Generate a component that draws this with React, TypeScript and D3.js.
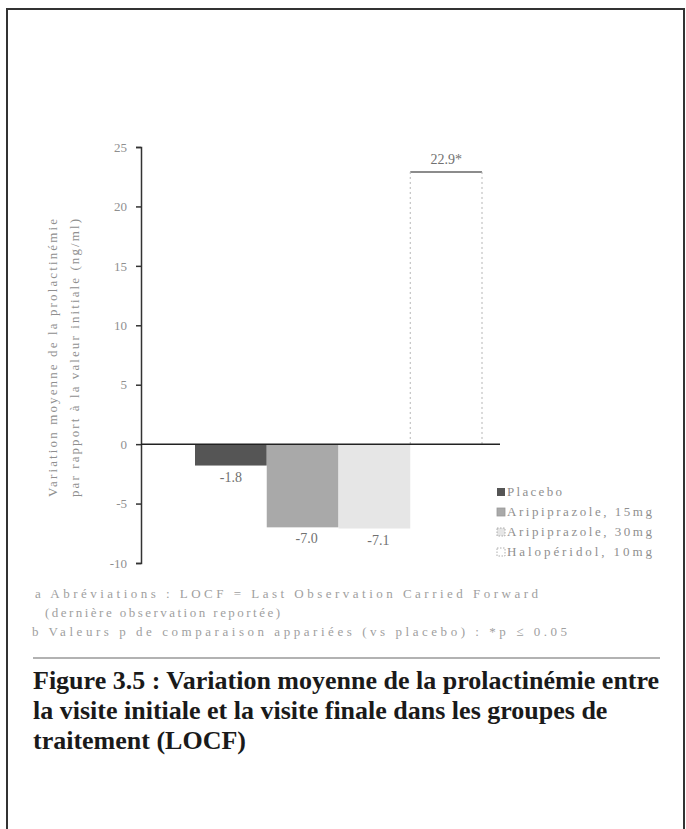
import React, { useEffect, useRef } from "react";
import * as d3 from "d3";

// data
const categories = ["Placebo", "Aripiprazole, 15mg", "Aripiprazole, 30mg", "Halopéridol, 10mg"];
const values = [-1.8, -7.0, -7.1, 22.9];
const valueLabels = ["-1.8", "-7.0", "-7.1", "22.9*"];
const yTicks = [25, 20, 15, 10, 5, 0, -5, -10];
const yLabelLines = ["Variation moyenne de la prolactinémie", "par rapport à la valeur initiale (ng/ml)"];
const footnotes = [
  "a Abréviations : LOCF = Last Observation Carried Forward",
  "(dernière observation reportée)",
  "b Valeurs p de comparaison appariées (vs placebo) : *p ≤ 0.05",
];
const captionLines = [
  "Figure 3.5 : Variation moyenne de la prolactinémie entre",
  "la visite initiale et la visite finale dans les groupes de",
  "traitement (LOCF)",
];

const barFills = ["#555555", "#a9a9a9", "#e6e6e6", "#ffffff"];

export default function App() {
  const ref = useRef<SVGSVGElement>(null);

  useEffect(() => {
    const width = 686;
    const height = 829;
    const svg = d3.select(ref.current).attr("width", width).attr("height", height);
    svg.selectAll("*").remove();

    const fadedText = "#8f8f8f";
    const serif = "Liberation Serif, Times New Roman, serif";

    // page frame (scanned page border)
    svg.append("path")
      .attr("d", `M7,${height} L7,9 L684,9 L684,${height}`)
      .attr("fill", "none")
      .attr("stroke", "#333")
      .attr("stroke-width", 2);

    // scales
    const yScale = d3.scaleLinear().domain([-10, 25]).range([563, 147]);
    const xScale = d3.scaleBand().domain(categories).range([195, 482]).padding(0);
    const axisX = 141;

    // y axis
    const yAxis = d3.axisLeft(yScale).tickValues(yTicks).tickSize(5).tickFormat(d => String(d));
    const gy = svg.append("g")
      .attr("transform", `translate(${axisX},0)`)
      .call(yAxis)
      .attr("font-family", serif)
      .attr("font-size", 13);
    gy.select(".domain").attr("stroke", "#333").attr("stroke-width", 1.5);
    gy.selectAll(".tick line").attr("stroke", "#333").attr("stroke-width", 1.5);
    gy.selectAll(".tick text")
      .attr("x", -14)
      .attr("fill", fadedText);

    // y label, two rotated lines
    yLabelLines.forEach((line, i) => {
      svg.append("text")
        .attr("transform", `translate(${57 + i * 22},358) rotate(-90)`)
        .attr("text-anchor", "middle")
        .attr("fill", fadedText)
        .attr("textLength", 278)
        .attr("font-family", serif)
        .attr("font-size", 13)
        .text(line);
    });

    // bars
    const data = categories.map((c, i) => ({ c, v: values[i], label: valueLabels[i], fill: barFills[i] }));
    svg.selectAll("rect.bar")
      .data(data)
      .enter()
      .append("rect")
      .attr("class", "bar")
      .attr("x", d => xScale(d.c) as number)
      .attr("y", d => yScale(Math.max(0, d.v)))
      .attr("width", xScale.bandwidth())
      .attr("height", d => Math.abs(yScale(d.v) - yScale(0)))
      .attr("fill", d => d.fill);

    // outline of the white bar: solid top, dotted sides
    const last = data[3];
    const lx0 = xScale(last.c) as number;
    const lx1 = lx0 + xScale.bandwidth();
    svg.append("line")
      .attr("x1", lx0).attr("x2", lx1)
      .attr("y1", yScale(last.v)).attr("y2", yScale(last.v))
      .attr("stroke", "#666").attr("stroke-width", 1.5);
    [lx0, lx1].forEach(x => {
      svg.append("line")
        .attr("x1", x).attr("x2", x)
        .attr("y1", yScale(last.v)).attr("y2", yScale(0))
        .attr("stroke", "#b5b5b5").attr("stroke-width", 1)
        .attr("stroke-dasharray", "2,3");
    });

    // zero line
    svg.append("line")
      .attr("x1", axisX).attr("x2", 500)
      .attr("y1", yScale(0)).attr("y2", yScale(0))
      .attr("stroke", "#222").attr("stroke-width", 1.5);

    // value labels
    svg.selectAll("text.val")
      .data(data)
      .enter()
      .append("text")
      .attr("class", "val")
      .attr("x", d => (xScale(d.c) as number) + xScale.bandwidth() / 2 + (d.v < -5 ? 4 : 0))
      .attr("y", d => d.v < 0 ? yScale(d.v) + 16 : yScale(d.v) - 8)
      .attr("text-anchor", "middle")
      .attr("fill", "#707070")
      .attr("font-family", serif)
      .attr("font-size", 14)
      .text(d => d.label);

    // legend
    const legend = svg.append("g").attr("transform", "translate(497,488)");
    data.forEach((d, i) => {
      const g = legend.append("g").attr("transform", `translate(0,${i * 20})`);
      g.append("rect")
        .attr("width", 8).attr("height", 8)
        .attr("fill", i === 3 ? "#fff" : d.fill)
        .attr("stroke", i === 0 ? "none" : "#999")
        .attr("stroke-width", 0.8)
        .attr("stroke-dasharray", i >= 2 ? "1.5,1.5" : null);
      g.append("text")
        .attr("x", 10).attr("y", 8)
        .attr("fill", fadedText)
        .attr("textLength", i === 0 ? 55 : 145)
        .attr("font-family", serif)
        .attr("font-size", 13)
        .text(d.c);
    });

    // footnotes
    const fnX = [35, 45, 32];
    const fnLen = [503, 235, 535];
    footnotes.forEach((t, i) => {
      svg.append("text")
        .attr("x", fnX[i])
        .attr("y", [598, 617, 636][i])
        .attr("fill", "#a0a0a0")
        .attr("textLength", fnLen[i])
        .attr("font-family", serif)
        .attr("font-size", 13)
        .text(t);
    });

    // rule above caption
    svg.append("line")
      .attr("x1", 33).attr("x2", 660)
      .attr("y1", 658).attr("y2", 658)
      .attr("stroke", "#666").attr("stroke-width", 1.2);

    // caption
    captionLines.forEach((t, i) => {
      svg.append("text")
        .attr("x", 33)
        .attr("y", 689 + i * 30)
        .attr("fill", "#1a1a1a")
        .attr("font-family", serif)
        .attr("font-weight", "bold")
        .attr("font-size", 26)
        .text(t);
    });
  }, []);

  return (
    <div style={{ position: "absolute", left: 0, top: 0 }}>
      <svg ref={ref}></svg>
    </div>
  );
}
